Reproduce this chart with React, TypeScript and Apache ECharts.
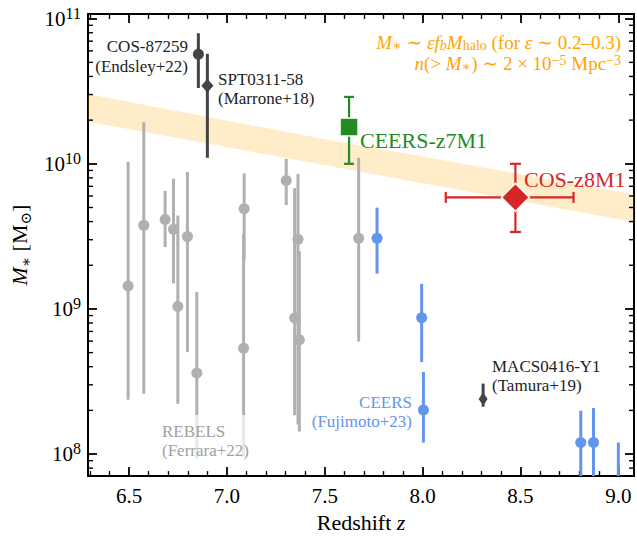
import React, { useEffect, useRef } from "react";
import * as echarts from "echarts";

// ---------------- data ----------------
// REBELS (Ferrara+22)
const rebelsZ = [6.495, 6.575, 6.684, 6.727, 6.749, 6.798, 6.846, 7.088, 7.085, 7.303, 7.346, 7.363, 7.37, 7.673];
const rebelsM = [1.44e9, 3.77e9, 4.14e9, 3.54e9, 1.04e9, 3.15e9, 3.62e8, 4.91e9, 5.36e8, 7.68e9, 8.65e8, 3.02e9, 6.14e8, 3.07e9];
const rebelsLo = [2.37e8, 2.6e8, 2.67e9, 1.5e9, 2.22e8, 5.04e8, 9.3e7, 2.2e9, 9.6e7, 5.2e9, 1.85e8, 1.6e8, 1.43e8, 5.96e8];
const rebelsHi = [1.03e10, 1.93e10, 6.5e9, 7.9e9, 4.4e9, 8.8e9, 1.31e9, 8.58e9, 3.27e9, 1.08e10, 6.8e9, 8.5e9, 2.5e9, 1.1e10];

// CEERS (Fujimoto+23)
const ceersZ = [7.767, 7.995, 8.004, 8.808, 8.873, 9.0];
const ceersM = [3.07e9, 8.7e8, 2.01e8, 1.2e8, 1.2e8, 6.0e7];
const ceersLo = [1.75e9, 4.3e8, 1.2e8, 3.0e7, 3.0e7, 3.0e7];
const ceersHi = [4.99e9, 1.49e9, 3.68e8, 1.99e8, 2.08e8, 1.2e8];

// literature objects: COS-87259, SPT0311-58, MACS0416-Y1
const litZ = [6.854, 6.9, 8.309];
const litM = [5.69e10, 3.45e10, 2.4e8];
const litLo = [3.33e10, 1.1e10, 2.12e8];
const litHi = [7.94e10, 5.73e10, 3.06e8];

// CEERS-z7M1
const z7Z = [7.624];
const z7M = [1.79e10];
const z7Lo = [1.0e10];
const z7Hi = [2.89e10];

// COS-z8M1
const z8Z = [8.474];
const z8ZLo = [8.118];
const z8ZHi = [8.771];
const z8M = [5.87e9];
const z8Lo = [3.39e9];
const z8Hi = [1.0e10];

// halo-abundance band
const bandZ = [6.29, 7.46, 9.08];
const bandLo = [1.96e10, 1.0e10, 3.97e9];
const bandHi = [3.03e10, 1.51e10, 6.15e9];

// ticks
const xMajor = [6.5, 7.0, 7.5, 8.0, 8.5, 9.0];
const xMinor = [6.3, 6.4, 6.6, 6.7, 6.8, 6.9, 7.1, 7.2, 7.3, 7.4, 7.6, 7.7, 7.8, 7.9, 8.1, 8.2, 8.3, 8.4, 8.6, 8.7, 8.8, 8.9, 9.0];
const yMajor = [1e8, 1e9, 1e10, 1e11];
const yMinorMantissa = [2, 3, 4, 5, 6, 7, 8, 9];
const yDecades = [1e7, 1e8, 1e9, 1e10];
const yMinor = yDecades.flatMap((d) => yMinorMantissa.map((m) => m * d));

const X_MIN = 6.29;
const X_MAX = 9.08;
const Y_MIN = 7.05e7;
const Y_MAX = 1.077e11;

const FONT = '"Liberation Serif", "DejaVu Serif", serif';

const GRAY = "#b0b0b0";
const BLUE = "#6495ed";
const DARK = "#444444";
const GREEN = "#228b22";
const RED = "#d62728";
const ORANGE = "#ffa500";

const MAJOR_LEN = 9;
const MINOR_LEN = 5;

function errBar(color: string, lw: number, cap: number, withX = false) {
  return (params: any, api: any) => {
    const z = api.value(0);
    const m = api.value(1);
    const lo = api.value(2);
    const hi = api.value(3);
    const a = api.coord([z, lo]);
    const b = api.coord([z, hi]);
    const st = { stroke: color, lineWidth: lw };
    const children: any[] = [
      { type: "line", shape: { x1: a[0], y1: a[1], x2: b[0], y2: b[1] }, style: st },
    ];
    if (cap > 0) {
      children.push({ type: "line", shape: { x1: a[0] - cap / 2, y1: a[1], x2: a[0] + cap / 2, y2: a[1] }, style: st });
      children.push({ type: "line", shape: { x1: b[0] - cap / 2, y1: b[1], x2: b[0] + cap / 2, y2: b[1] }, style: st });
    }
    if (withX) {
      const l = api.coord([api.value(4), m]);
      const r = api.coord([api.value(5), m]);
      children.push({ type: "line", shape: { x1: l[0], y1: l[1], x2: r[0], y2: r[1] }, style: st });
      children.push({ type: "line", shape: { x1: l[0], y1: l[1] - cap / 2, x2: l[0], y2: l[1] + cap / 2 }, style: st });
      children.push({ type: "line", shape: { x1: r[0], y1: r[1] - cap / 2, x2: r[0], y2: r[1] + cap / 2 }, style: st });
    }
    return { type: "group", children };
  };
}

// log-axis minor ticks (2..9 per decade) on both vertical spines, through the axes' scales
function yMinorTickElements(toPx: (p: number[]) => number[]) {
  const els: any[] = [];
  yMinor.forEach((v) => {
    if (v < Y_MIN || v > Y_MAX) return;
    const l = toPx([X_MIN, v]);
    const r = toPx([X_MAX, v]);
    const st = { stroke: "#000", lineWidth: 1.4 };
    els.push({ type: "line", z: 90, shape: { x1: l[0], y1: l[1], x2: l[0] + MINOR_LEN, y2: l[1] }, style: st });
    els.push({ type: "line", z: 90, shape: { x1: r[0], y1: r[1], x2: r[0] - MINOR_LEN, y2: r[1] }, style: st });
  });
  return els;
}

export default function App() {
  const ref = useRef<HTMLDivElement>(null);
  useEffect(() => {
    if (!ref.current) return;
    const chart = echarts.init(ref.current, null, { renderer: "svg" });

    const axisLine = { show: true, onZero: false, lineStyle: { color: "#000", width: 2 } };
    const majorTick = { show: true, inside: true, length: MAJOR_LEN, lineStyle: { color: "#000", width: 1.8 } };
    const xMinorTick = { show: true, splitNumber: 5, length: MINOR_LEN, lineStyle: { color: "#000", width: 1.4 } };
    const noLabel = { show: false };
    const txt = (s: any) => ({ fontFamily: FONT, ...s });

    const rebelsData = rebelsZ.map((z, i) => [z, rebelsM[i], rebelsLo[i], rebelsHi[i]]);
    const ceersData = ceersZ.map((z, i) => [z, ceersM[i], ceersLo[i], ceersHi[i]]);
    const litData = litZ.map((z, i) => [z, litM[i], litLo[i], litHi[i]]);
    const z7Data = z7Z.map((z, i) => [z, z7M[i], z7Lo[i], z7Hi[i]]);
    const z8Data = z8Z.map((z, i) => [z, z8M[i], z8Lo[i], z8Hi[i], z8ZLo[i], z8ZHi[i]]);
    const bandData = bandZ.map((z, i) => [z, bandLo[i], bandHi[i]]);

    const annoFont = `17px ${FONT}`;

    const textGraphics: any[] = [
      {
        type: "text", z: 100, right: 16, top: 33,
        style: {
          text: "{i|M}{sb|∗}{a| ∼ }{i|εf}{si|b}{i|M}{sb|halo}{a| (for }{i|ε}{a| ∼ 0.2–0.3)}",
          fill: ORANGE,
          rich: {
            a: txt({ fontSize: 19, fill: ORANGE, lineHeight: 20 }),
            i: txt({ fontSize: 19, fill: ORANGE, fontStyle: "italic", lineHeight: 20 }),
            sb: txt({ fontSize: 14, fill: ORANGE, lineHeight: 13, verticalAlign: "bottom" }),
            si: txt({ fontSize: 14, fill: ORANGE, fontStyle: "italic", lineHeight: 13, verticalAlign: "bottom" }),
          },
        },
      },
      {
        type: "text", z: 100, right: 16, top: 53,
        style: {
          text: "{i|n}{a|(> }{i|M}{sb|∗}{a|) ∼ 2 × 10}{sp|−5}{a| Mpc}{sp|−3}",
          fill: ORANGE,
          rich: {
            a: txt({ fontSize: 19, fill: ORANGE, lineHeight: 20 }),
            i: txt({ fontSize: 19, fill: ORANGE, fontStyle: "italic", lineHeight: 20 }),
            sb: txt({ fontSize: 14, fill: ORANGE, lineHeight: 13, verticalAlign: "bottom" }),
            sp: txt({ fontSize: 14, fill: ORANGE, lineHeight: 13, verticalAlign: "top" }),
          },
        },
      },
      { type: "text", z: 100, right: 449, top: 38, style: { text: "COS-87259", fill: "#222", font: annoFont } },
      { type: "text", z: 100, right: 449, top: 58, style: { text: "(Endsley+22)", fill: "#222", font: annoFont } },
      {
        type: "text", z: 100, left: 218, top: 70,
        style: { text: "SPT0311-58\n(Marrone+18)", fill: "#222", font: annoFont, lineHeight: 19 },
      },
      {
        type: "text", z: 100, left: 492, top: 357,
        style: { text: "MACS0416-Y1\n(Tamura+19)", fill: "#222", font: annoFont, lineHeight: 19 },
      },
      { type: "text", z: 100, right: 225, top: 394, style: { text: "CEERS", fill: BLUE, font: annoFont } },
      { type: "text", z: 100, right: 225, top: 413, style: { text: "(Fujimoto+23)", fill: BLUE, font: annoFont } },
      {
        type: "text", z: 100, left: 159, top: 415,
        style: {
          text: "REBELS\n(Ferrara+22)", fill: "#a0a0a0", font: annoFont, lineHeight: 19,
          backgroundColor: "rgba(255,255,255,0.72)", padding: [7, 3, 4, 3],
        },
      },
      { type: "text", z: 100, left: 360, top: 129, style: { text: "CEERS-z7M1", fill: GREEN, font: `22px ${FONT}` } },
      { type: "text", z: 100, left: 524, top: 168, style: { text: "COS-z8M1", fill: RED, font: `22px ${FONT}` } },
    ];

    const option: any = {
      animation: false,
      grid: [{ left: 88, top: 14, width: 546, height: 463.6, containLabel: false }],
      xAxis: [
        {
          type: "value", position: "bottom", min: X_MIN, max: X_MAX, splitNumber: 5,
          axisLine, axisTick: majorTick, minorTick: xMinorTick,
          splitLine: { show: false }, minorSplitLine: { show: false },
          axisLabel: {
            customValues: xMajor, margin: 9, color: "#000", fontSize: 21, fontFamily: FONT,
            formatter: (v: number) => v.toFixed(1),
          },
          name: "{a|Redshift }{i|z}", nameLocation: "middle", nameGap: 33,
          nameTextStyle: {
            rich: {
              a: txt({ fontSize: 22, color: "#000" }),
              i: txt({ fontSize: 22, color: "#000", fontStyle: "italic" }),
            },
          },
        },
        {
          type: "value", position: "top", min: X_MIN, max: X_MAX, splitNumber: 5,
          axisLine, axisTick: majorTick, minorTick: xMinorTick, axisLabel: noLabel,
          splitLine: { show: false }, minorSplitLine: { show: false },
        },
      ],
      yAxis: [
        {
          type: "log", logBase: 10, position: "left", min: Y_MIN, max: Y_MAX,
          axisLine, axisTick: majorTick, splitLine: { show: false }, minorTick: { show: false },
          axisLabel: {
            customValues: yMajor, margin: 7, color: "#000",
            formatter: (v: number) => `{b|10}{s|${Math.round(Math.log10(v))}}`,
            rich: {
              b: txt({ fontSize: 21, color: "#000", lineHeight: 27 }),
              s: txt({ fontSize: 16, color: "#000", lineHeight: 16, verticalAlign: "top" }),
            },
          },
          name: "{i|M}{sb|∗}{a| [M}{sb|⊙}{a|]}", nameLocation: "middle", nameGap: 36,
          nameTextStyle: {
            rich: {
              a: txt({ fontSize: 22, color: "#000", lineHeight: 28 }),
              i: txt({ fontSize: 22, color: "#000", fontStyle: "italic", lineHeight: 28 }),
              sb: txt({ fontSize: 15, color: "#000", lineHeight: 15, verticalAlign: "bottom" }),
            },
          },
        },
        {
          type: "log", logBase: 10, position: "right", min: Y_MIN, max: Y_MAX,
          axisLine, axisTick: majorTick, axisLabel: noLabel, splitLine: { show: false }, minorTick: { show: false },
        },
      ],
      series: [
        {
          type: "custom", name: "band", xAxisIndex: 0, yAxisIndex: 0, clip: true, silent: true,
          data: bandData,
          renderItem: (params: any, api: any) => {
            if (params.dataIndex !== 0) return { type: "group", children: [] };
            const top = bandData.map((d) => api.coord([d[0], d[2]]));
            const bot = bandData.map((d) => api.coord([d[0], d[1]])).reverse();
            return { type: "polygon", shape: { points: top.concat(bot) }, style: { fill: "rgba(255,165,0,0.21)" } };
          },
        },
        {
          type: "custom", name: "rebelsErr", xAxisIndex: 0, yAxisIndex: 0, clip: true, silent: true,
          data: rebelsData, renderItem: errBar(GRAY, 3, 0),
        },
        {
          type: "scatter", name: "rebels", xAxisIndex: 0, yAxisIndex: 0, silent: true,
          data: rebelsData.map((d) => [d[0], d[1]]), symbol: "circle", symbolSize: 11,
          itemStyle: { color: GRAY, opacity: 1 },
        },
        {
          type: "custom", name: "ceersErr", xAxisIndex: 0, yAxisIndex: 0, clip: true, silent: true,
          data: ceersData, renderItem: errBar(BLUE, 3, 0),
        },
        {
          type: "scatter", name: "ceers", xAxisIndex: 0, yAxisIndex: 0, silent: true, clip: true,
          data: ceersData.map((d) => [d[0], d[1]]), symbol: "circle", symbolSize: 11,
          itemStyle: { color: BLUE, opacity: 1 },
        },
        {
          type: "custom", name: "litErr", xAxisIndex: 0, yAxisIndex: 0, clip: true, silent: true,
          data: litData, renderItem: errBar(DARK, 3, 0),
        },
        {
          type: "scatter", name: "lit", xAxisIndex: 0, yAxisIndex: 0, silent: true,
          data: litData.map((d) => [d[0], d[1]]),
          symbol: (_v: any, p: any) => (p.dataIndex === 0 ? "circle" : "diamond"),
          symbolSize: (_v: any, p: any) => (p.dataIndex === 0 ? 11 : p.dataIndex === 1 ? [12, 14] : [9, 13]),
          itemStyle: { color: DARK, opacity: 1 },
        },
        {
          type: "custom", name: "z7Err", xAxisIndex: 0, yAxisIndex: 0, clip: true, silent: true,
          data: z7Data, renderItem: errBar(GREEN, 2.2, 10),
        },
        {
          type: "scatter", name: "z7", xAxisIndex: 0, yAxisIndex: 0, silent: true,
          data: z7Data.map((d) => [d[0], d[1]]), symbol: "rect", symbolSize: 18,
          itemStyle: { color: GREEN, opacity: 1, borderColor: "#fff", borderWidth: 1.5 },
        },
        {
          type: "custom", name: "z8Err", xAxisIndex: 0, yAxisIndex: 0, clip: true, silent: true,
          data: z8Data, renderItem: errBar(RED, 2.2, 11, true),
        },
        {
          type: "scatter", name: "z8", xAxisIndex: 0, yAxisIndex: 0, silent: true,
          data: z8Data.map((d) => [d[0], d[1]]), symbol: "diamond", symbolSize: 28,
          itemStyle: { color: RED, opacity: 1, borderColor: "#fff", borderWidth: 1.5 },
        },
      ],
      graphic: textGraphics,
    };

    chart.setOption(option);

    // log-axis minor ticks, positioned through the axes once the grid is laid out
    const toPx = (p: number[]) => chart.convertToPixel({ xAxisIndex: 0, yAxisIndex: 0 }, p) as number[];
    chart.setOption({ graphic: [...textGraphics, ...yMinorTickElements(toPx)] });

    return () => chart.dispose();
  }, []);

  return <div ref={ref} style={{ position: "absolute", left: 0, top: 0, width: 637, height: 538 }} />;
}
